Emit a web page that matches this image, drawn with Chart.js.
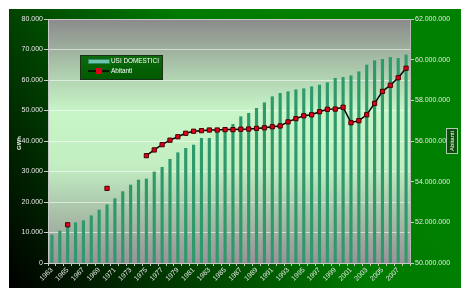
<!DOCTYPE html>
<html>
<head>
<meta charset="utf-8">
<script src="https://cdn.jsdelivr.net/npm/chart.js@4/dist/chart.umd.min.js"></script>
<style>
  html, body { margin: 0; padding: 0; background: #fff; }
  canvas { display: block; }
</style>
</head>
<body>
<canvas id="chart" width="470" height="298"></canvas>
<script>
const years = ["1963","1964","1965","1966","1967","1968","1969","1970","1971","1972",
  "1973","1974","1975","1976","1977","1978","1979","1980","1981","1982",
  "1983","1984","1985","1986","1987","1988","1989","1990","1991","1992",
  "1993","1994","1995","1996","1997","1998","1999","2000","2001","2002",
  "2003","2004","2005","2006","2007","2008"];

// GWh
const usiDomestici = [9180, 10490, 12130, 13200, 13870, 15500, 17380, 19100, 21100, 23400,
  25570, 27200, 27540, 29840, 31380, 34000, 36160, 37600, 38690, 40880,
  40880, 42720, 43600, 45470, 47970, 49080, 50720, 52560, 54530, 55630,
  56170, 56800, 57150, 57800, 58360, 59130, 60550, 60880, 61410, 62720,
  64920, 66330, 66780, 67440, 67110, 68200];

const abitanti = [null, null, 51880000, null, null, null, null, 53670000, null, null,
  null, null, 55280000, 55560000, 55820000, 56040000, 56210000, 56380000, 56480000, 56510000,
  56540000, 56540000, 56560000, 56560000, 56580000, 56590000, 56620000, 56650000, 56700000, 56740000,
  56940000, 57100000, 57240000, 57290000, 57440000, 57560000, 57570000, 57660000, 56900000, 57000000,
  57290000, 57850000, 58440000, 58740000, 59110000, 59580000];

const FONT = "'Liberation Sans', Arial, sans-serif";

function fmt(v) {
  return String(Math.round(v)).replace(/\B(?=(\d{3})+(?!\d))/g, ".");
}

const backgroundPlugin = {
  id: "bg",
  beforeDraw(chart) {
    const ctx = chart.ctx;
    const a = chart.chartArea;
    ctx.save();
    ctx.fillStyle = "#ffffff";
    ctx.fillRect(0, 0, chart.width, chart.height);
    let g = ctx.createLinearGradient(9, 288, 330, 60);
    g.addColorStop(0, "#000000");
    g.addColorStop(0.35, "#003a00");
    g.addColorStop(0.75, "#007a00");
    g.addColorStop(1, "#008000");
    ctx.fillStyle = g;
    ctx.fillRect(9, 9, 452, 279);
    g = ctx.createLinearGradient(0, a.top, 0, a.bottom);
    g.addColorStop(0, "#8a8a8a");
    g.addColorStop(0.22, "#aecdae");
    g.addColorStop(0.38, "#c8f5c8");
    g.addColorStop(0.6, "#c2eec2");
    g.addColorStop(0.8, "#a8c0a8");
    g.addColorStop(1, "#9a929a");
    ctx.fillStyle = g;
    ctx.fillRect(a.left, a.top, a.right - a.left, a.bottom - a.top);
    ctx.restore();
  }
};

const labelsPlugin = {
  id: "labels",
  afterDraw(chart) {
    const ctx = chart.ctx;
    ctx.save();
    // left axis title
    ctx.fillStyle = "#f0f0f0";
    ctx.font = "bold 6px " + FONT;
    ctx.textAlign = "center";
    ctx.textBaseline = "middle";
    ctx.translate(19, 143);
    ctx.rotate(-Math.PI / 2);
    ctx.fillText("GWh", 0, 0);
    ctx.restore();

    // right axis title box
    ctx.save();
    ctx.fillStyle = "#0b4f0b";
    ctx.fillRect(447, 129, 10, 24);
    ctx.strokeStyle = "#b0c8b0";
    ctx.lineWidth = 1;
    ctx.strokeRect(446.5, 128.5, 11, 25);
    ctx.fillStyle = "#ffffff";
    ctx.font = "6px " + FONT;
    ctx.textAlign = "center";
    ctx.textBaseline = "middle";
    ctx.translate(452, 141);
    ctx.rotate(-Math.PI / 2);
    ctx.fillText("Abitanti", 0, 0);
    ctx.restore();

    // legend
    ctx.save();
    ctx.shadowColor = "rgba(0,0,0,0.5)";
    ctx.shadowOffsetX = 1;
    ctx.shadowOffsetY = 1;
    const lg = ctx.createLinearGradient(0, 56, 0, 79);
    lg.addColorStop(0, "#0c6a0c");
    lg.addColorStop(1, "#005a00");
    ctx.fillStyle = lg;
    ctx.fillRect(81, 56, 81, 23);
    ctx.shadowColor = "transparent";
    ctx.strokeStyle = "#1a301a";
    ctx.strokeRect(80.5, 55.5, 82, 24);
    ctx.fillStyle = "#6cc8a8";
    ctx.fillRect(89, 60, 20, 3);
    ctx.strokeStyle = "#2e8a68";
    ctx.strokeRect(88.5, 59.5, 21, 4);
    ctx.strokeStyle = "#000000";
    ctx.lineWidth = 1.5;
    ctx.beginPath();
    ctx.moveTo(88, 71);
    ctx.lineTo(109, 71);
    ctx.stroke();
    ctx.fillStyle = "#e0001a";
    ctx.fillRect(96, 68, 6, 6);
    ctx.fillStyle = "#ffffff";
    ctx.font = "6.4px " + FONT;
    ctx.textBaseline = "middle";
    ctx.fillText("USI DOMESTICI", 111, 61.5);
    ctx.fillText("Abitanti", 111, 71);
    ctx.restore();
  }
};

const ctx = document.getElementById("chart").getContext("2d");
new Chart(ctx, {
  type: "bar",
  data: {
    labels: years,
    datasets: [
      {
        type: "line",
        label: "Abitanti",
        data: abitanti,
        yAxisID: "y2",
        borderColor: "#000000",
        borderWidth: 1.5,
        pointStyle: "rect",
        pointRadius: 3,
        pointBackgroundColor: "#e0001a",
        pointBorderColor: "#4a0000",
        pointBorderWidth: 1,
        spanGaps: false,
        tension: 0,
        order: 1
      },
      {
        label: "USI DOMESTICI",
        data: usiDomestici,
        yAxisID: "y",
        backgroundColor: "#2e9a6c",
        barThickness: 2.5,
        order: 2
      }
    ]
  },
  options: {
    responsive: false,
    animation: false,
    devicePixelRatio: 1,
    layout: { padding: { top: 19, left: 0, right: 0, bottom: 0 } },
    plugins: {
      legend: { display: false },
      tooltip: { enabled: false }
    },
    scales: {
      x: {
        grid: { drawOnChartArea: false, tickLength: 3, tickColor: "#c8c8c8", offset: true },
        border: { color: "#c8c8c8" },
        ticks: {
          autoSkip: false,
          minRotation: 45,
          maxRotation: 45,
          padding: 0,
          color: "#e8e8e8",
          font: { family: FONT, size: 7 },
          callback: function (v, i) { return i % 2 === 0 ? this.getLabelForValue(v) : ""; }
        },
        afterFit: s => { s.height = 35; }
      },
      y: {
        position: "left",
        min: 0,
        max: 80000,
        grid: { color: "rgba(255,255,255,0.55)", tickLength: 4, tickColor: "#c8c8c8" },
        border: { color: "#c8c8c8" },
        ticks: {
          stepSize: 10000,
          padding: 1,
          color: "#e8e8e8",
          font: { family: FONT, size: 7 },
          callback: v => fmt(v)
        },
        afterFit: s => { s.width = 48; }
      },
      y2: {
        position: "right",
        min: 50000000,
        max: 62000000,
        grid: { drawOnChartArea: false, tickLength: 4, tickColor: "#c8c8c8" },
        border: { color: "#b8b8b8" },
        ticks: {
          stepSize: 2000000,
          padding: 1,
          color: "#e8e8e8",
          font: { family: FONT, size: 7 },
          callback: v => fmt(v)
        },
        afterFit: s => { s.width = 60; }
      }
    }
  },
  plugins: [backgroundPlugin, labelsPlugin]
});
</script>
</body>
</html>
